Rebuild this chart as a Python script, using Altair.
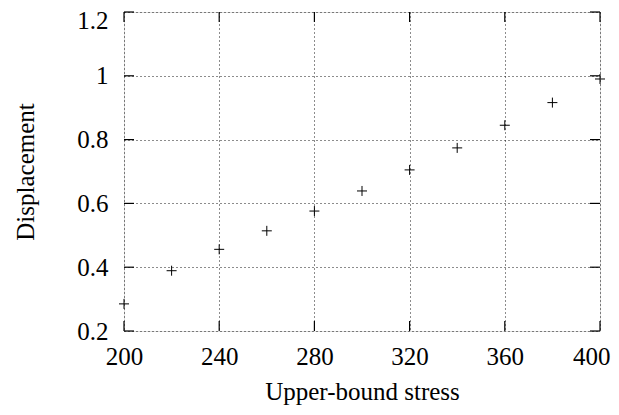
import altair as alt
import pandas as pd

stress = [200, 220, 240, 260, 280, 300, 320, 340, 360, 380, 400]
disp = [0.285, 0.389, 0.456, 0.514, 0.576, 0.639, 0.705, 0.774, 0.845, 0.916, 0.990]
xticks = [200, 240, 280, 320, 360, 400]
yticks = [0.2, 0.4, 0.6, 0.8, 1.0, 1.2]

W, H = 476, 319
FONT = "'Liberation Serif', serif"
LFONT = "serif"

df = pd.DataFrame({"stress": stress, "disp": disp})
dx = pd.DataFrame({"t": xticks})
dy = pd.DataFrame({"t": yticks})

xscale = alt.Scale(domain=[200, 400], nice=False, zero=False)
yscale = alt.Scale(domain=[0.2, 1.2], nice=False, zero=False)

xaxis = alt.Axis(values=xticks, tickSize=0, domain=False, grid=True,
                 gridDash=[1, 3], gridColor="#000", gridWidth=1, gridOpacity=0.9,
                 labelFont=LFONT, labelFontSize=25, labelColor="#000", labelPadding=13,
                 labelAlign={"condition": {"test": "datum.value == 400", "value": "right"}, "value": "center"},
                 labelOffset={"condition": {"test": "datum.value == 400", "value": 10}, "value": 0},
                 title="Upper-bound stress", titleFont=FONT, titleFontSize=25,
                 titleFontWeight="normal", titleColor="#000", titlePadding=10)
yaxis = alt.Axis(values=yticks, tickSize=0, domain=False, grid=True, format="~g",
                 gridDash=[1, 3], gridColor="#000", gridWidth=1, gridOpacity=0.9,
                 labelFont=LFONT, labelFontSize=25, labelColor="#000", labelPadding=16,
                 labelOffset={"condition": {"test": "datum.value == 1.2", "value": 8}, "value": 0},
                 title="Displacement", titleFont=FONT, titleFontSize=25,
                 titleFontWeight="normal", titleColor="#000", titlePadding=38)

pts = alt.Chart(df).mark_point(
    shape="M-1,0H1M0,-1V1", size=100, filled=False, color="#000", strokeWidth=1, opacity=1
).encode(
    x=alt.X("stress:Q", scale=xscale, axis=xaxis),
    y=alt.Y("disp:Q", scale=yscale, axis=yaxis),
)

tk = dict(color="#000", strokeWidth=1.2)
yl = alt.Chart(dy).mark_rule(**tk).encode(y=alt.Y("t:Q", scale=yscale), x=alt.value(0), x2=alt.value(10))
yr = alt.Chart(dy).mark_rule(**tk).encode(y=alt.Y("t:Q", scale=yscale), x=alt.value(W - 10), x2=alt.value(W))
xb = alt.Chart(dx).mark_rule(**tk).encode(x=alt.X("t:Q", scale=xscale), y=alt.value(H - 10), y2=alt.value(H))
xt = alt.Chart(dx).mark_rule(**tk).encode(x=alt.X("t:Q", scale=xscale), y=alt.value(0), y2=alt.value(10))

chart = alt.layer(yl, yr, xb, xt, pts).properties(
    width=W, height=H,
    autosize=alt.AutoSizeParams(type="none"),
    padding={"left": 116, "top": 4, "right": 11, "bottom": 74},
).configure_view(stroke="#000", strokeWidth=1.5).configure(background="white")

chart.save("out.html", embed_options={"renderer": "svg", "actions": False})
